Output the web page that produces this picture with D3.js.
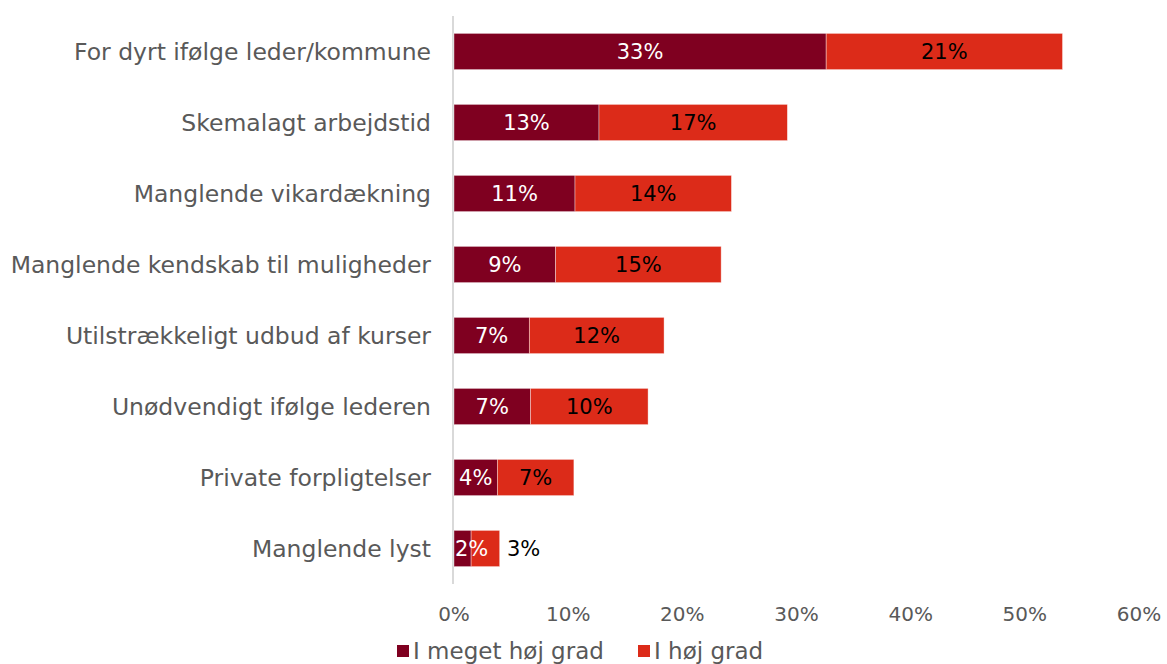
<!DOCTYPE html>
<html><head><meta charset="utf-8">
<script src="https://cdn.jsdelivr.net/npm/d3@7"></script>
<style>body{margin:0;background:#fff;} svg text{font-family:"DejaVu Sans",sans-serif;}</style>
</head><body>
<svg id="c" width="1167" height="664"></svg>
<script>
const categories = ["For dyrt ifølge leder/kommune","Skemalagt arbejdstid","Manglende vikardækning","Manglende kendskab til muligheder","Utilstrækkeligt udbud af kurser","Unødvendigt ifølge lederen","Private forpligtelser","Manglende lyst"];
const meget = [32.6, 12.7, 10.6, 8.9, 6.6, 6.7, 3.8, 1.5];
const hoej = [20.7, 16.5, 13.7, 14.5, 11.8, 10.3, 6.7, 2.5];
const seriesNames = ["I meget høj grad","I høj grad"];
const colors = ["#7F0020","#DC2B19"];
const ticks = [0,10,20,30,40,50,60];

const svg = d3.select("#c");
const x = d3.scaleLinear().domain([0,60]).range([454,1139]);
const y = d3.scaleBand().domain(categories).range([16,584]).paddingInner(0.49).paddingOuter(0.245);

const data = categories.map((c,i)=>({cat:c, v:[meget[i], hoej[i]]}));

svg.append("line").attr("x1",453).attr("x2",453).attr("y1",16).attr("y2",584).attr("stroke","#d9d9d9").attr("stroke-width",2);

data.forEach(d=>{
  let start=0;
  d.v.forEach((v,j)=>{
    svg.append("rect").attr("x",x(start)).attr("y",y(d.cat)).attr("width",x(start+v)-x(start)).attr("height",y.bandwidth())
      .attr("fill",colors[j]).attr("stroke","#fff").attr("stroke-opacity",0.5).attr("stroke-width",0.75);
    start+=v;
  });
});
data.forEach(d=>{
  let start=0;
  d.v.forEach((v,j)=>{
    const outside = (j===1 && v<3);
    const tiny = (j===0 && v<2);
    let cx = outside ? x(start+v)+24 : (x(start)+x(start+v))/2;
    let anchor = "middle";
    if (tiny) { cx = x(start)+1; anchor = "start"; }
    svg.append("text").attr("x",cx).attr("y",y(d.cat)+y.bandwidth()/2).attr("dy","0.36em")
      .attr("text-anchor",anchor).attr("font-size",21)
      .attr("fill", j===0 ? "#fff" : "#000").text(Math.round(v)+"%");
    start+=v;
  });
  svg.append("text").attr("x",431).attr("y",y(d.cat)+y.bandwidth()/2).attr("dy","0.36em")
    .attr("text-anchor","end").attr("font-size",23.5).attr("fill","#595959").text(d.cat);
});

ticks.forEach(t=>{
  svg.append("text").attr("x",x(t)).attr("y",614).attr("dy","0.36em").attr("text-anchor","middle")
    .attr("font-size",20).attr("fill","#595959").text(t+"%");
});

const lg = [{x:397},{x:638}];
seriesNames.forEach((n,i)=>{
  svg.append("rect").attr("x",lg[i].x).attr("y",645).attr("width",12).attr("height",12).attr("fill",colors[i]);
  svg.append("text").attr("x",lg[i].x+16).attr("y",651).attr("dy","0.36em").attr("font-size",23).attr("fill","#595959").text(n);
});
</script>
</body></html>
